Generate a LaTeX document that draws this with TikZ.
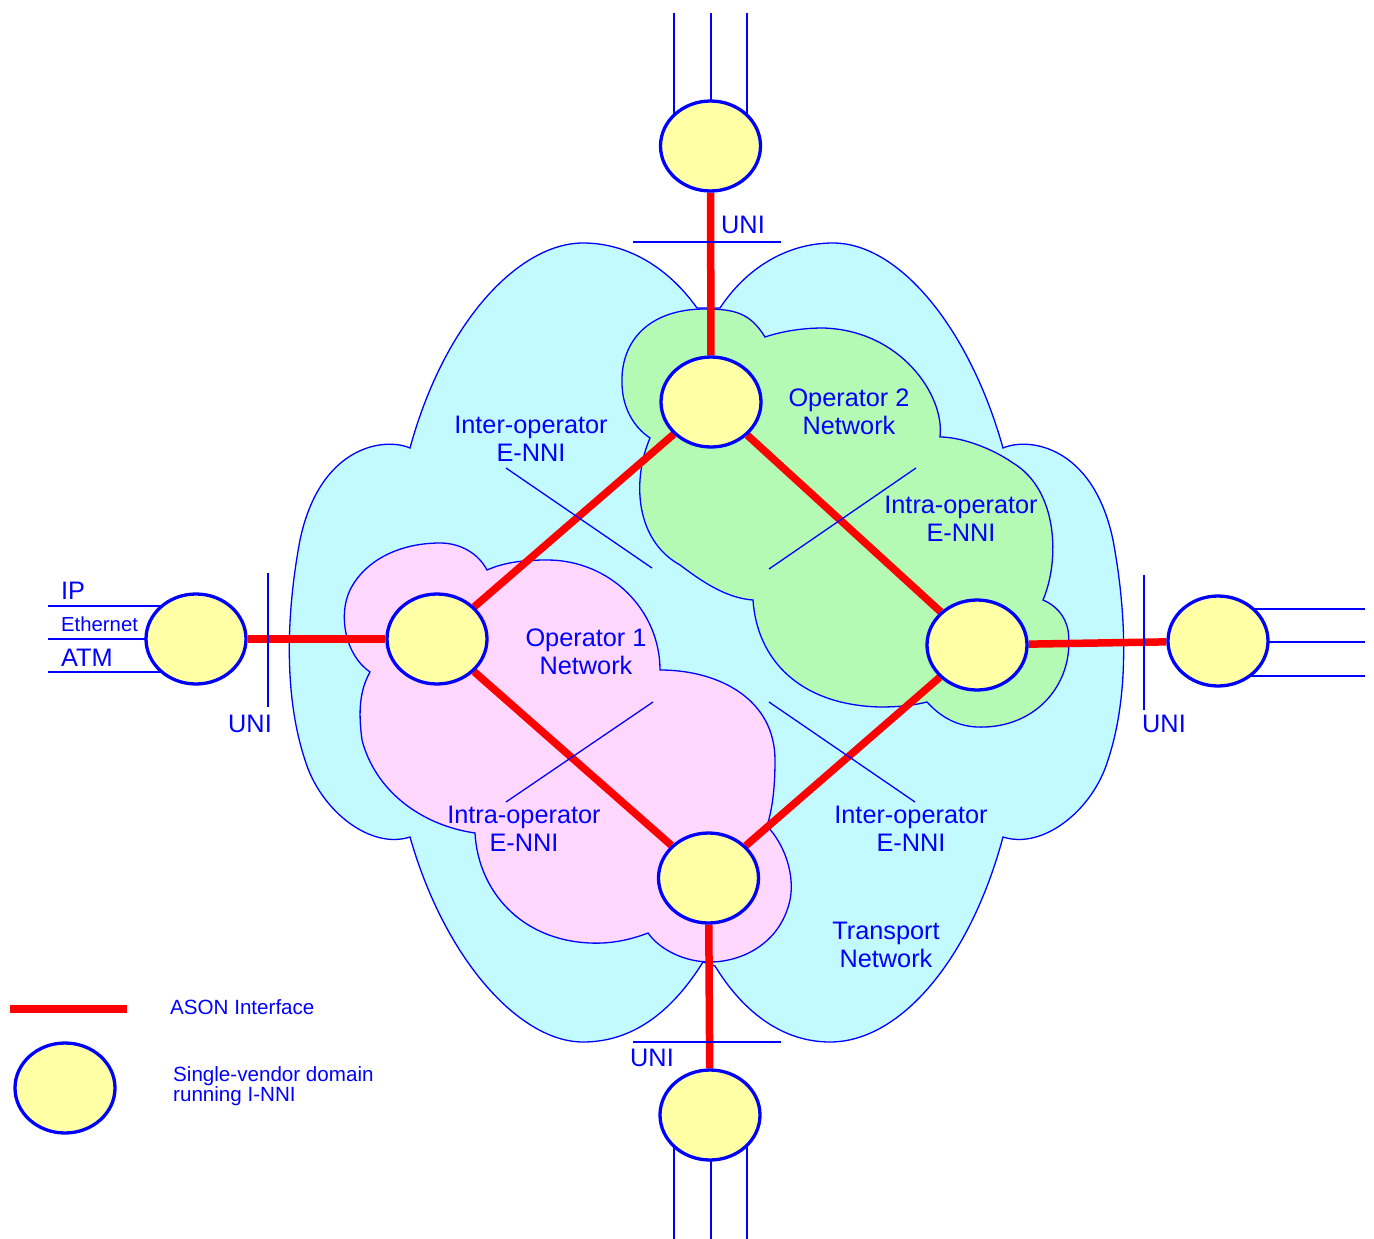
\documentclass[tikz,border=0pt]{standalone}
\usepackage{fontspec}
\setmainfont{Liberation Sans}
\usetikzlibrary{shapes.geometric}
\pgfdeclarelayer{clouds}
\pgfdeclarelayer{under}
\pgfsetlayers{clouds,under,main}
\definecolor{tcol}{RGB}{195,250,255}
\definecolor{gcol}{RGB}{180,250,180}
\definecolor{pcol}{RGB}{255,215,255}
\definecolor{ycol}{RGB}{255,255,165}
\begin{document}
\begin{tikzpicture}[x=1pt,y=-1pt,
  cloud/.style={draw=blue,line width=1.3pt},
  dom/.style={ellipse,draw=blue,line width=3.3pt,fill=ycol,minimum width=100pt,minimum height=90pt,inner sep=0pt},
  ason/.style={red,line width=7.5pt},
  thinl/.style={blue,line width=1.3pt},
  lbl/.style={text=blue,font=\fontsize{25.3}{28}\selectfont,align=center,inner sep=0pt},
  small/.style={text=blue,font=\fontsize{20.6}{20.5}\selectfont,align=left,inner sep=0pt,anchor=west}]

\useasboundingbox (0,0) rectangle (1374,1239);

\begin{pgfonlayer}{clouds}
% Transport network
\path[cloud,fill=tcol] (697,308) .. controls (670,270) and (630,243) .. (583,243)
 .. controls (520,243) and (445,320) .. (410,448)
 .. controls (385,437) and (320,445) .. (300,540)
 .. controls (285,620) and (285,700) .. (305,760)
 .. controls (320,810) and (370,850) .. (410,837)
 .. controls (445,960) and (520,1042) .. (583,1042)
 .. controls (630,1042) and (670,1015) .. (703,962)
 -- (715,966)
 .. controls (745,1015) and (785,1042) .. (830,1042)
 .. controls (900,1042) and (970,960) .. (1003,837)
 .. controls (1043,850) and (1093,810) .. (1108,760)
 .. controls (1128,700) and (1128,620) .. (1113,540)
 .. controls (1093,445) and (1028,437) .. (1003,448)
 .. controls (970,330) and (900,243) .. (833,243)
 .. controls (785,243) and (745,270) .. (720,308)
 -- cycle;
% Operator 2
\path[cloud,fill=gcol] (765,337) .. controls (750,313) and (735,309) .. (705,309)
 .. controls (650,309) and (620,340) .. (622,385)
 .. controls (623,410) and (635,428) .. (650,438)
 .. controls (632,480) and (635,540) .. (680,565)
 .. controls (700,580) and (725,598) .. (753,600)
 .. controls (757,660) and (800,705) .. (880,707)
 .. controls (900,707) and (915,705) .. (927,702)
 .. controls (945,722) and (965,728) .. (985,727)
 .. controls (1040,725) and (1075,680) .. (1068,630)
 .. controls (1065,615) and (1055,605) .. (1043,600)
 .. controls (1060,560) and (1058,490) .. (1013,463)
 .. controls (990,447) and (960,437) .. (940,437)
 .. controls (945,395) and (900,330) .. (823,328)
 .. controls (800,328) and (780,332) .. (765,337) -- cycle;
% Operator 1
\path[cloud,fill=pcol] (487,570) .. controls (505,562) and (525,560) .. (547,560)
 .. controls (610,560) and (660,610) .. (660,670)
 .. controls (720,670) and (775,700) .. (775,760)
 .. controls (775,790) and (772,810) .. (767,826)
 .. controls (785,845) and (795,875) .. (790,900)
 .. controls (780,945) and (740,962) .. (710,962)
 .. controls (685,962) and (660,950) .. (648,933)
 .. controls (630,940) and (610,944) .. (590,943)
 .. controls (520,940) and (478,890) .. (475,833)
 .. controls (420,825) and (375,790) .. (362,740)
 .. controls (358,710) and (360,690) .. (370,672)
 .. controls (345,655) and (338,615) .. (350,590)
 .. controls (365,560) and (400,543) .. (440,543)
 .. controls (460,543) and (478,553) .. (487,570) -- cycle;
\end{pgfonlayer}

% domains
\node[dom] (tout) at (710.5,146) {};
\node[dom] (op2) at (711,402) {};
\node[dom] (op1) at (437,639) {};
\node[dom] (rn) at (977,645) {};
\node[dom] (bn) at (708.5,878) {};
\node[dom] (bout) at (710,1115) {};
\node[dom] (lout) at (196,639) {};
\node[dom] (rout) at (1218,641) {};
\node[dom] (leg) at (65,1088) {};

\coordinate (ta) at (674,13);
\coordinate (tb) at (711,13);
\coordinate (tc) at (747,13);
\coordinate (ba) at (674,1239);
\coordinate (bb) at (711,1239);
\coordinate (bc) at (747,1239);
\coordinate (la) at (48,606);
\coordinate (lb) at (48,639);
\coordinate (lc) at (48,672);
\coordinate (ra) at (1365,609);
\coordinate (rb) at (1365,642);
\coordinate (rc) at (1365,676);

\begin{pgfonlayer}{under}
\draw[thinl] (ta) -- (ta |- tout.center);
\draw[thinl] (tb) -- (tb |- tout.center);
\draw[thinl] (tc) -- (tc |- tout.center);
\draw[thinl] (ba) -- (ba |- bout.center);
\draw[thinl] (bb) -- (bb |- bout.center);
\draw[thinl] (bc) -- (bc |- bout.center);
\draw[thinl] (la) -- (la -| lout.center);
\draw[thinl] (lb) -- (lb -| lout.center);
\draw[thinl] (lc) -- (lc -| lout.center);
\draw[thinl] (ra) -- (ra -| rout.center);
\draw[thinl] (rb) -- (rb -| rout.center);
\draw[thinl] (rc) -- (rc -| rout.center);
\draw[ason] (tout) -- (op2);
\draw[ason] (op2) -- (op1);
\draw[ason] (op2) -- (rn);
\draw[ason] (op1) -- (bn);
\draw[ason] (rn) -- (bn);
\draw[ason] (lout) -- (op1);
\draw[ason] (rn) -- (rout);
\draw[ason] (bn) -- (bout);
\end{pgfonlayer}

% UNI marks
\draw[thinl] (633,242) -- (781,242);
\draw[thinl] (633,1042) -- (781,1042);
\draw[thinl] (268,573) -- (268,707);
\draw[thinl] (1144,575) -- (1144,710);

% pointer lines
\coordinate (p1a) at (506,468); \coordinate (p1b) at (652,568);
\coordinate (p2a) at (916,468); \coordinate (p2b) at (769,569);
\coordinate (p3a) at (653,702); \coordinate (p3b) at (506,802);
\coordinate (p4a) at (769,702); \coordinate (p4b) at (915,802);
\draw[thinl] (p1a) -- (p1b);
\draw[thinl] (p2a) -- (p2b);
\draw[thinl] (p3a) -- (p3b);
\draw[thinl] (p4a) -- (p4b);

% labels
\node[lbl] (u1) at (743,225) {UNI};
\node[lbl] (u2) at (250,724) {UNI};
\node[lbl] (u3) at (1164,724) {UNI};
\node[lbl] (u4) at (652,1058) {UNI};
\node[lbl,anchor=west] (ip) at (61,591) {IP};
\node[lbl,anchor=west,font=\fontsize{20.3}{24}\selectfont] (eth) at (61,624.5) {Ethernet};
\node[lbl,anchor=west] (atm) at (61,658) {ATM};
\node[lbl] (l1) at (531,438.5) {Inter-operator\\E-NNI};
\node[lbl] (l2) at (849,412) {Operator 2\\Network};
\node[lbl] (l3) at (961,519) {Intra-operator\\E-NNI};
\node[lbl] (l4) at (586,652) {Operator 1\\Network};
\node[lbl] (l5) at (524,828.5) {Intra-operator\\E-NNI};
\node[lbl] (l6) at (911,828.5) {Inter-operator\\E-NNI};
\node[lbl] (l7) at (886,945) {Transport\\Network};

% legend
\coordinate (lga) at (10,1009);
\coordinate (lgb) at (127,1009);
\draw[ason] (lga) -- (lgb);
\node[small] (lt1) at (170,1007) {ASON Interface};
\node[small,text depth=0pt] (lt2) at (173,1084) {Single-vendor domain\\running I-NNI};
\end{tikzpicture}
\end{document}
